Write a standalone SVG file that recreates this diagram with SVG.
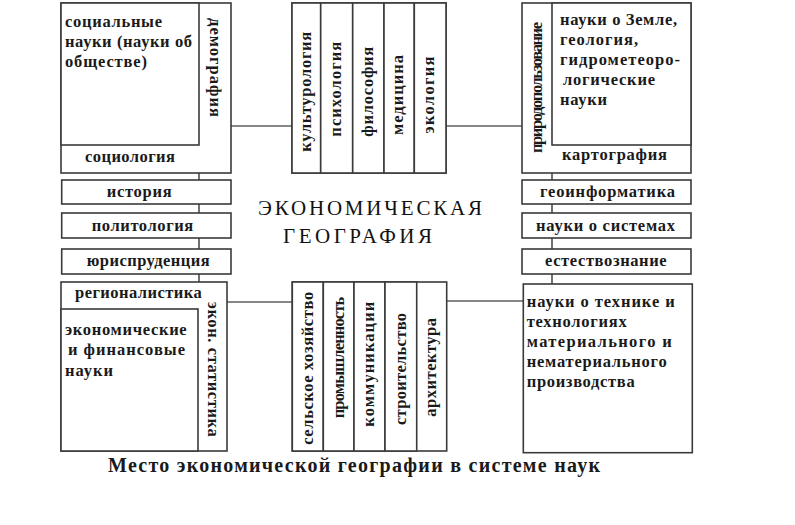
<svg xmlns="http://www.w3.org/2000/svg" width="795" height="525" viewBox="0 0 795 525">
<style>
rect{fill:#fff;stroke:#3a3a3a;stroke-width:1.6}
.c line{stroke:#111;stroke-width:1.2}
text{font-family:"Liberation Serif","DejaVu Serif",serif;font-weight:bold;font-size:16.5px;fill:#1a1a1a}
.big{font-size:21px;font-weight:normal;fill:#111}
.cap{font-size:20px}
.m{text-anchor:middle}
</style>
<rect x="0" y="0" width="795" height="525" style="stroke:none"/>
<g class="c" id="connectors">
<line x1="231" y1="126" x2="292" y2="126"/>
<line x1="446" y1="126" x2="522" y2="126"/>
<line x1="227" y1="302" x2="292" y2="302"/>
<line x1="447" y1="301" x2="523" y2="301"/>
<line x1="199" y1="173" x2="199" y2="180"/>
<line x1="199" y1="204" x2="199" y2="213"/>
<line x1="199" y1="238" x2="199" y2="249"/>
<line x1="199" y1="274" x2="199" y2="282"/>
<line x1="552" y1="173" x2="552" y2="180"/>
<line x1="552" y1="204" x2="552" y2="213"/>
<line x1="552" y1="238" x2="552" y2="249"/>
<line x1="552" y1="274" x2="552" y2="284"/>
</g>
<g id="social">
<rect x="61" y="3" width="170" height="170"/>
<rect x="61" y="3" width="138" height="142"/>
<text x="65" y="27" textLength="97">социальные</text>
<text x="65" y="47" textLength="127">науки (науки об</text>
<text x="65" y="67" textLength="82">обществе)</text>
<text x="85" y="162" textLength="90">социология</text>
<text class="m" transform="translate(210,67.5) rotate(90)" textLength="99">демография</text>
</g>
<g id="humanities">
<rect x="292" y="3" width="154" height="170"/>
<rect x="292" y="3" width="28.7" height="170"/>
<rect x="320.7" y="3" width="32" height="170"/>
<rect x="352.7" y="3" width="31.3" height="170"/>
<rect x="384" y="3" width="30.3" height="170"/>
<rect x="414.3" y="3" width="31.7" height="170"/>
<text class="m" transform="translate(311,91.7) rotate(-90)" textLength="120">культурология</text>
<text class="m" transform="translate(341,89.2) rotate(-90)" textLength="95">психология</text>
<text class="m" transform="translate(372.5,91.7) rotate(-90)" textLength="90">философия</text>
<text class="m" transform="translate(402.5,95) rotate(-90)" textLength="80">медицина</text>
<text class="m" transform="translate(433.5,95) rotate(-90)" textLength="77">экология</text>
</g>
<g id="earth">
<rect x="522" y="3" width="169" height="170"/>
<rect x="552" y="3" width="139" height="142"/>
<text class="m" transform="translate(542,87.5) rotate(-90)" textLength="131">природопользование</text>
<text x="560" y="25" textLength="117">науки о Земле,</text>
<text x="560" y="45" textLength="78">геология,</text>
<text x="560" y="65" textLength="120">гидрометеоро-</text>
<text x="563" y="85" textLength="92">логические</text>
<text x="560" y="105" textLength="47">науки</text>
<text x="562" y="160" textLength="105">картография</text>
</g>
<g id="history"><rect x="61.7" y="180" width="169.3" height="24"/><text x="106.7" y="197" textLength="65">история</text></g>
<g id="politology"><rect x="61.7" y="213" width="169.3" height="25"/><text x="91.7" y="230.5" textLength="101.6">политология</text></g>
<g id="law"><rect x="61.7" y="249" width="169.3" height="25"/><text x="86.7" y="266" textLength="123">юриспруденция</text></g>
<g id="geoinformatics"><rect x="522" y="180" width="169" height="24"/><text x="540" y="197" textLength="135">геоинформатика</text></g>
<g id="systems"><rect x="522" y="213" width="169" height="25"/><text x="536" y="230.5" textLength="139">науки о системах</text></g>
<g id="natural"><rect x="522" y="249" width="169" height="25"/><text x="545" y="266" textLength="121.7">естествознание</text></g>
<g id="title">
<text class="big" x="258" y="215" textLength="224">ЭКОНОМИЧЕСКАЯ</text>
<text class="big" x="283" y="243" textLength="149">ГЕОГРАФИЯ</text>
</g>
<g id="economic">
<rect x="61" y="282" width="166" height="169"/>
<rect x="61" y="309" width="137" height="142"/>
<text x="75" y="298" textLength="126.7">регионалистика</text>
<text x="65" y="335" textLength="121.7">экономические</text>
<text x="68" y="355" textLength="117">и финансовые</text>
<text x="65" y="376" textLength="48">науки</text>
<text class="m" transform="translate(208,369.2) rotate(90)" textLength="135">экон. статистика</text>
</g>
<g id="production">
<rect x="292.3" y="282" width="154.4" height="169"/>
<rect x="292.3" y="282" width="31" height="169"/>
<rect x="323.3" y="282" width="30.7" height="169"/>
<rect x="354" y="282" width="31" height="169"/>
<rect x="385" y="282" width="31.7" height="169"/>
<text class="m" transform="translate(312.5,368.3) rotate(-90)" textLength="153">сельское хозяйство</text>
<text class="m" transform="translate(343.5,357.5) rotate(-90)" textLength="121.7">промышленность</text>
<text class="m" transform="translate(374,364.2) rotate(-90)" textLength="125">коммуникации</text>
<text class="m" transform="translate(405.5,369) rotate(-90)" textLength="112">строительство</text>
<text class="m" transform="translate(436,367.3) rotate(-90)" textLength="98.7">архитектура</text>
</g>
<g id="technology">
<rect x="523.3" y="284" width="169" height="168.7"/>
<text x="526.7" y="306.7" textLength="148">науки о технике и</text>
<text x="526.7" y="326.7" textLength="100">технологиях</text>
<text x="526.7" y="346.7" textLength="145">материального и</text>
<text x="526.7" y="366.7" textLength="140">нематериального</text>
<text x="526.7" y="386.7" textLength="108">производства</text>
</g>
<text class="cap" x="108" y="472" textLength="492">Место экономической географии в системе наук</text>
</svg>
